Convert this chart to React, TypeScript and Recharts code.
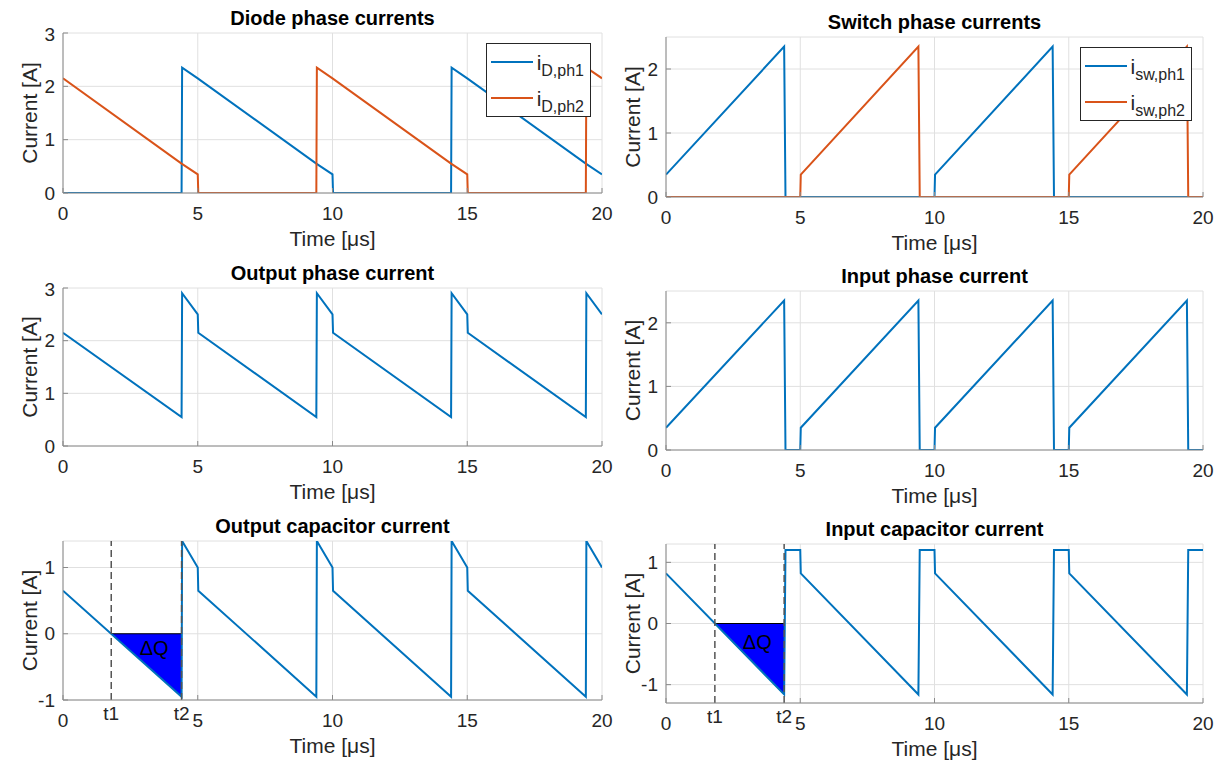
import React from "react";
import {
  ComposedChart,
  Line,
  Area,
  XAxis,
  YAxis,
  CartesianGrid,
  ReferenceLine,
  ReferenceDot,
  Legend,
} from "recharts";

const FONT = '"Liberation Sans", Arial, Helvetica, sans-serif';
const BLUE = "#0072BD";
const ORANGE = "#D95319";
const AXIS = "#8a8a8a";
const TEXT = "#262626";

const timeTicks = [0, 5, 10, 15, 20];

// diode currents
const diodePh1Time = [0, 4.4, 4.42, 5, 9.4, 10, 10.02, 14.4, 14.42, 15, 19.4, 20];
const diodePh1 = [0, 0, 2.35, 2.15, 0.55, 0.35, 0, 0, 2.35, 2.15, 0.55, 0.35];
const diodePh2Time = [0, 4.4, 5, 5.02, 9.4, 9.42, 10, 14.4, 15, 15.02, 19.4, 19.42, 20];
const diodePh2 = [2.15, 0.55, 0.35, 0, 0, 2.35, 2.15, 0.55, 0.35, 0, 0, 2.35, 2.15];

// switch currents
const switchPh1Time = [0, 4.4, 4.45, 10, 10.02, 14.4, 14.45, 20];
const switchPh1 = [0.35, 2.35, 0, 0, 0.35, 2.35, 0, 0];
const switchPh2Time = [0, 5, 5.02, 9.4, 9.45, 15, 15.02, 19.4, 19.45, 20];
const switchPh2 = [0, 0, 0.35, 2.35, 0, 0, 0.35, 2.35, 0, 0];

// output side
const outTime = [0, 4.4, 4.42, 5, 5.02, 9.4, 9.42, 10, 10.02, 14.4, 14.42, 15, 15.02, 19.4, 19.42, 20];
const outPhase = [2.15, 0.55, 2.9, 2.5, 2.15, 0.55, 2.9, 2.5, 2.15, 0.55, 2.9, 2.5, 2.15, 0.55, 2.9, 2.5];
const outCap = [0.65, -0.95, 1.4, 1.0, 0.65, -0.95, 1.4, 1.0, 0.65, -0.95, 1.4, 1.0, 0.65, -0.95, 1.4, 1.0];

// input side
const inTime = [0, 4.4, 4.45, 5, 5.02, 9.4, 9.45, 10, 10.02, 14.4, 14.45, 15, 15.02, 19.4, 19.45, 20];
const inPhase = [0.35, 2.35, 0, 0, 0.35, 2.35, 0, 0, 0.35, 2.35, 0, 0, 0.35, 2.35, 0, 0];
const inCap = [0.82, -1.16, 1.2, 1.2, 0.82, -1.16, 1.2, 1.2, 0.82, -1.16, 1.2, 1.2, 0.82, -1.16, 1.2, 1.2];

// charge triangles (t1 -> t2)
const outChargeTime = [1.79, 4.4];
const outCharge = [0, -0.95];
const inChargeTime = [1.82, 4.4];
const inCharge = [0, -1.16];

const pts = (t: number[], v: number[]) => t.map((x, i) => ({ t: x, v: v[i] }));

type Box = { left: number; top: number; w: number; h: number };
type Series = { name: string; sub: string; color: string; data: { t: number; v: number }[] };
type Charge = { data: { t: number; v: number }[]; dq: [number, number] };

const ML = 60;
const MT = 10;
const MR = 15;
const XH = 70;

const tickStyle = { fill: TEXT, fontSize: 19, fontFamily: FONT };
const blank = () => "";

function LegendBox({ items }: { items: Series[] }) {
  return (
    <div
      style={{
        border: `1px solid ${TEXT}`,
        background: "#fff",
        padding: "0 6px 0 4px",
        fontFamily: FONT,
        color: TEXT,
        whiteSpace: "nowrap",
      }}
    >
      {items.map((s) => (
        <div key={s.name} style={{ display: "flex", alignItems: "center", height: 36 }}>
          <span style={{ display: "inline-block", width: 42, height: 2, background: s.color, marginRight: 4 }} />
          <span style={{ fontSize: 21, lineHeight: 1 }}>i</span>
          <span style={{ fontSize: 16, lineHeight: 1, position: "relative", top: 9 }}>{s.sub}</span>
        </div>
      ))}
    </div>
  );
}

function Panel({
  box,
  title,
  yDomain,
  yTicks,
  series,
  legend,
  charge,
}: {
  box: Box;
  title: string;
  yDomain: [number, number];
  yTicks: number[];
  series: Series[];
  legend?: boolean;
  charge?: Charge;
}) {
  const t1 = charge ? charge.data[0].t : 0;
  const t2 = charge ? charge.data[charge.data.length - 1].t : 0;
  return (
    <div style={{ position: "absolute", left: box.left - ML, top: box.top - MT }}>
      <div
        style={{
          position: "absolute",
          left: ML,
          top: MT - 25,
          width: box.w,
          textAlign: "center",
          fontWeight: "bold",
          fontSize: 20,
          lineHeight: "20px",
          color: "#000",
          fontFamily: FONT,
        }}
      >
        {title}
      </div>
      <ComposedChart
        width={box.w + ML + MR}
        height={box.h + MT + XH}
        margin={{ top: MT, right: MR, bottom: 0, left: 0 }}
      >
        <CartesianGrid stroke="#e0e0e0" />
        <XAxis
          dataKey="t"
          type="number"
          domain={[0, 20]}
          ticks={timeTicks}
          allowDataOverflow
          height={XH}
          tickSize={-5}
          tickMargin={19}
          stroke={AXIS}
          tick={tickStyle}
          label={{ value: "Time [μs]", position: "center", dy: 11, fill: TEXT, fontSize: 21, fontFamily: FONT }}
        />
        <XAxis
          xAxisId="top"
          orientation="top"
          dataKey="t"
          type="number"
          domain={[0, 20]}
          ticks={timeTicks}
          allowDataOverflow
          height={0}
          tickSize={-5}
          tickFormatter={blank}
          stroke={AXIS}
        />
        <YAxis
          type="number"
          domain={yDomain}
          ticks={yTicks}
          allowDataOverflow
          width={ML}
          tickSize={-5}
          tickMargin={13}
          stroke={AXIS}
          tick={tickStyle}
          label={{ value: "Current [A]", angle: -90, position: "center", dx: -3, fill: TEXT, fontSize: 21, fontFamily: FONT }}
        />
        <YAxis
          yAxisId="right"
          orientation="right"
          type="number"
          domain={yDomain}
          ticks={yTicks}
          allowDataOverflow
          width={0}
          tickSize={-5}
          tickFormatter={blank}
          stroke={AXIS}
        />
        {charge && (
          <Area
            data={charge.data}
            dataKey="v"
            type="linear"
            baseValue={0}
            fill="#0000ff"
            fillOpacity={1}
            stroke="#000"
            strokeWidth={1}
            isAnimationActive={false}
            legendType="none"
          />
        )}
        {charge && (
          <ReferenceLine
            segment={[
              { x: t1, y: 0 },
              { x: t2, y: 0 },
            ]}
            stroke="#000"
            strokeWidth={1}
          />
        )}
        {series.map((s) => (
          <Line
            key={s.name}
            data={s.data}
            dataKey="v"
            name={s.name}
            type="linear"
            stroke={s.color}
            strokeWidth={2}
            dot={false}
            activeDot={false}
            isAnimationActive={false}
          />
        ))}
        {charge && (
          <ReferenceLine
            x={t1}
            stroke="#555"
            strokeWidth={1.5}
            strokeDasharray="7 4"
            label={{ value: "t1", position: "bottom", offset: 7, fill: TEXT, fontSize: 19, fontFamily: FONT }}
          />
        )}
        {charge && (
          <ReferenceLine
            x={t2}
            stroke="#555"
            strokeWidth={1.5}
            strokeDasharray="7 4"
            label={{ value: "t2", position: "bottom", offset: 7, fill: TEXT, fontSize: 19, fontFamily: FONT }}
          />
        )}
        {charge && (
          <ReferenceDot
            x={charge.dq[0]}
            y={charge.dq[1]}
            r={0}
            fill="none"
            stroke="none"
            label={{ value: "ΔQ", position: "center", fill: "#000", fontSize: 20, fontFamily: FONT }}
          />
        )}
        {legend && (
          <Legend
            layout="vertical"
            align="center"
            verticalAlign="middle"
            wrapperStyle={{ top: MT + 10, right: MR + 11, left: "auto", width: "auto", height: "auto" }}
            content={() => <LegendBox items={series} />}
          />
        )}
      </ComposedChart>
    </div>
  );
}

export default function App() {
  return (
    <div
      style={{
        position: "absolute",
        left: 0,
        top: 0,
        width: 1227,
        height: 768,
        background: "#fff",
        overflow: "hidden",
      }}
    >
      <Panel
        box={{ left: 63, top: 33, w: 539, h: 160 }}
        title="Diode phase currents"
        yDomain={[0, 3]}
        yTicks={[0, 1, 2, 3]}
        legend
        series={[
          { name: "iD,ph1", sub: "D,ph1", color: BLUE, data: pts(diodePh1Time, diodePh1) },
          { name: "iD,ph2", sub: "D,ph2", color: ORANGE, data: pts(diodePh2Time, diodePh2) },
        ]}
      />
      <Panel
        box={{ left: 666, top: 37, w: 537, h: 160 }}
        title="Switch phase currents"
        yDomain={[0, 2.5]}
        yTicks={[0, 1, 2]}
        legend
        series={[
          { name: "isw,ph1", sub: "sw,ph1", color: BLUE, data: pts(switchPh1Time, switchPh1) },
          { name: "isw,ph2", sub: "sw,ph2", color: ORANGE, data: pts(switchPh2Time, switchPh2) },
        ]}
      />
      <Panel
        box={{ left: 63, top: 288, w: 539, h: 158 }}
        title="Output phase current"
        yDomain={[0, 3]}
        yTicks={[0, 1, 2, 3]}
        series={[{ name: "iout", sub: "", color: BLUE, data: pts(outTime, outPhase) }]}
      />
      <Panel
        box={{ left: 666, top: 291, w: 537, h: 159 }}
        title="Input phase current"
        yDomain={[0, 2.5]}
        yTicks={[0, 1, 2]}
        series={[{ name: "iin", sub: "", color: BLUE, data: pts(inTime, inPhase) }]}
      />
      <Panel
        box={{ left: 63, top: 541, w: 539, h: 159 }}
        title="Output capacitor current"
        yDomain={[-1, 1.4]}
        yTicks={[-1, 0, 1]}
        series={[{ name: "icout", sub: "", color: BLUE, data: pts(outTime, outCap) }]}
        charge={{ data: pts(outChargeTime, outCharge), dq: [3.38, -0.22] }}
      />
      <Panel
        box={{ left: 666, top: 544, w: 537, h: 159 }}
        title="Input capacitor current"
        yDomain={[-1.3, 1.3]}
        yTicks={[-1, 0, 1]}
        series={[{ name: "icin", sub: "", color: BLUE, data: pts(inTime, inCap) }]}
        charge={{ data: pts(inChargeTime, inCharge), dq: [3.4, -0.3] }}
      />
    </div>
  );
}
